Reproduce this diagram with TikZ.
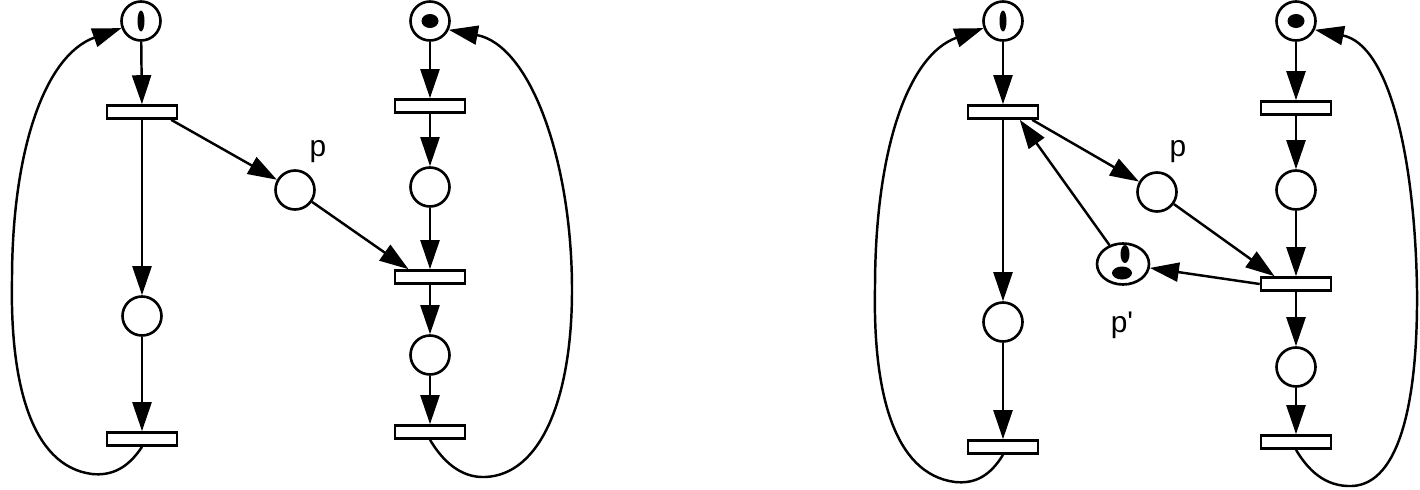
\documentclass[tikz,border=0pt]{standalone}
\usepackage{fontspec}
\setmainfont{Liberation Sans}
\usetikzlibrary{arrows.meta,shapes.geometric}

\begin{document}
\begin{tikzpicture}[x=0.02cm,y=-0.02cm,
		place/.style={draw,circle,line width=1.5pt,minimum size=0.78cm,inner sep=0pt},
		trans/.style={draw,rectangle,line width=1.5pt,minimum width=1.4cm,minimum height=0.26cm,inner sep=0pt},
		arc/.style={line width=1.4pt,-{Triangle[length=0.58cm,width=0.38cm]}},
		lbl/.style={font=\fontsize{17}{19}\selectfont}]
		\useasboundingbox (0,0) rectangle (1420,490);
		% left net
		\node[place] (a0) at (141,21) {};
		\node[trans] (ta1) at (142,112) {};
		\node[place] (a1) at (142,316) {};
		\node[trans] (ta2) at (142,439) {};
		\node[place] (b0) at (430,21) {};
		\node[trans] (tb1) at (430,106) {};
		\node[place] (b1) at (430,187) {};
		\node[trans] (tb2) at (430,277) {};
		\node[place] (b2) at (430,355) {};
		\node[trans] (tb3) at (430,432) {};
		\node[place] (p) at (295,190) {};
		\node[lbl] (plbl) at (318,152) {p};
		\fill (a0) ellipse (3.5 and 10.5);
		\fill (b0) ellipse (8.5 and 7);
		\draw[arc] (a0) -- (ta1);
		\draw[arc] (ta1) -- (a1);
		\draw[arc] (a1) -- (ta2);
		\draw[arc] (ta1.-15) -- (p);
		\draw[arc] (p) -- (tb2.160);
		\draw[arc] (b0) -- (tb1);
		\draw[arc] (tb1) -- (b1);
		\draw[arc] (b1) -- (tb2);
		\draw[arc] (tb2) -- (b2);
		\draw[arc] (b2) -- (tb3);
		\draw[arc] (ta2.south) .. controls (128,468) and (112,476) .. (92,474)
			.. controls (30,466) and (10,380) .. (12,280)
			.. controls (12,150) and (45,55) .. (a0.200);
		\draw[arc] (tb3.south) .. controls (442,460) and (460,478) .. (485,477)
			.. controls (540,475) and (572,400) .. (572,290)
			.. controls (572,160) and (530,45) .. (b0.-25);
		% right net
		\node[place] (c0) at (1003,21) {};
		\node[trans] (tc1) at (1003,112) {};
		\node[place] (c1) at (1003,322) {};
		\node[trans] (tc2) at (1003,447) {};
		\node[place] (d0) at (1296,21) {};
		\node[trans] (td1) at (1296,108) {};
		\node[place] (d1) at (1296,190) {};
		\node[trans] (td2) at (1296,284) {};
		\node[place] (d2) at (1296,367) {};
		\node[trans] (td3) at (1296,442) {};
		\node[place] (q) at (1157,192) {};
		\node[lbl] (qlbl) at (1178,152) {p};
		\node[draw,ellipse,line width=1.5pt,minimum width=1.04cm,minimum height=0.82cm,inner sep=0pt] (qq) at (1123,264) {};
		\node[lbl] (qqlbl) at (1122,325) {p\textquotesingle};
		\fill (c0) ellipse (3.5 and 10.5);
		\fill (d0) ellipse (8.5 and 7);
		\fill (1125,254) ellipse (4.5 and 9);
		\fill (1122,273) ellipse (10 and 6.5);
		\draw[arc] (c0) -- (tc1);
		\draw[arc] (tc1) -- (c1);
		\draw[arc] (c1) -- (tc2);
		\draw[arc] (tc1.-15) -- (q);
		\draw[arc] (q) -- (td2.160);
		\draw[arc] (td2.west) -- (qq);
		\draw[arc] (qq) -- (tc1.-25);
		\draw[arc] (d0) -- (td1);
		\draw[arc] (td1) -- (d1);
		\draw[arc] (d1) -- (td2);
		\draw[arc] (td2) -- (d2);
		\draw[arc] (d2) -- (td3);
		\draw[arc] (tc2.south) .. controls (990,476) and (975,484) .. (955,482)
			.. controls (893,474) and (873,390) .. (875,288)
			.. controls (875,150) and (908,55) .. (c0.200);
		\draw[arc] (td3.south) .. controls (1308,470) and (1325,487) .. (1352,486)
			.. controls (1400,484) and (1418,400) .. (1417,290)
			.. controls (1415,160) and (1390,45) .. (d0.-25);
	\end{tikzpicture}
\end{document}
